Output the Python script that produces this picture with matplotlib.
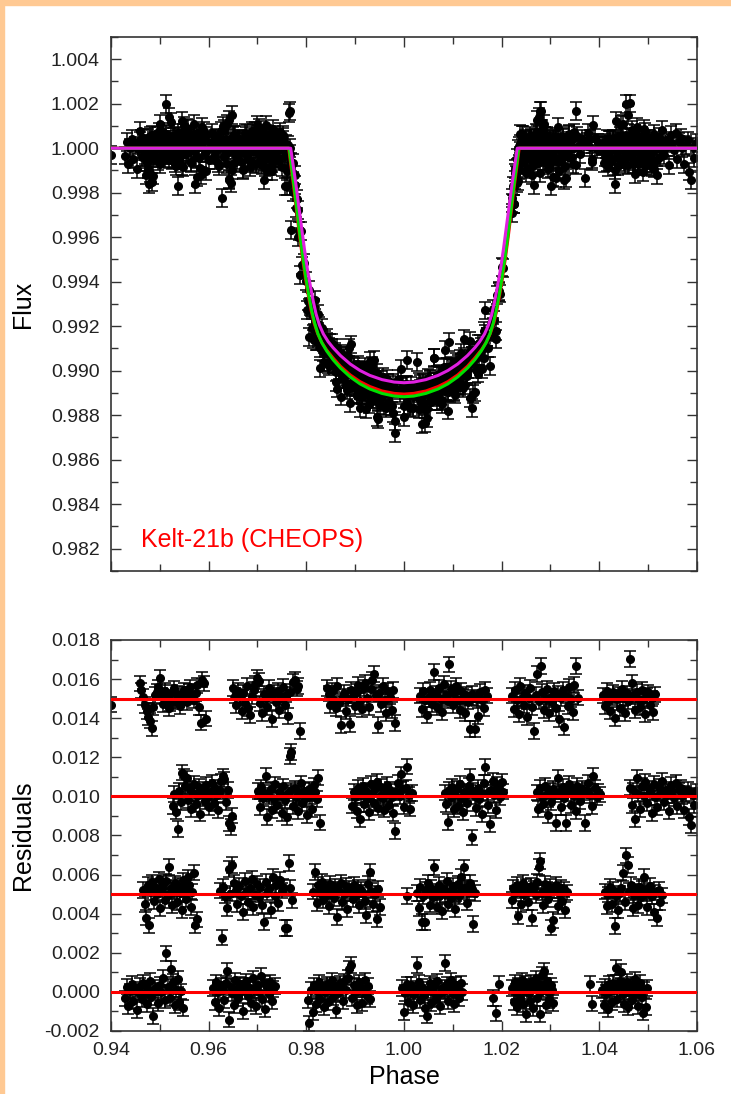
import numpy as np
import matplotlib
matplotlib.use('Agg')
import matplotlib.pyplot as plt
from matplotlib.patches import Rectangle
from matplotlib.ticker import MultipleLocator, FormatStrFormatter

plt.rcParams['font.family'] = ['Liberation Sans', 'DejaVu Sans']
plt.rcParams['axes.unicode_minus'] = False

# transit models, half profile (phase - 1, flux); curves are symmetric about phase 1
dp_red = [-0.0600, -0.0236, -0.0232, -0.0226, -0.0220, -0.0214, -0.0208, -0.0202, -0.0196, -0.0190, -0.0184,
          -0.0177, -0.0169, -0.0159, -0.0145, -0.0130, -0.0110, -0.0090, -0.0070, -0.0045, -0.0020, 0.0]
flux_red = [1.0000, 1.0000, 0.9993, 0.9983, 0.9972, 0.9961, 0.9951, 0.9942, 0.9934, 0.9927, 0.99215,
            0.99168, 0.99130, 0.99095, 0.99057, 0.99020, 0.98981, 0.98951, 0.98929, 0.98909, 0.98898, 0.98895]
dp_green = [-0.0600, -0.0235, -0.0231, -0.0225, -0.0219, -0.0213, -0.0207, -0.0201, -0.0195, -0.0189, -0.0183,
            -0.0176, -0.0168, -0.0158, -0.0145, -0.0130, -0.0110, -0.0090, -0.0070, -0.0045, -0.0020, 0.0]
flux_green = [1.0000, 1.0000, 0.9993, 0.9983, 0.9972, 0.9961, 0.9951, 0.9942, 0.9934, 0.9927, 0.99215,
              0.99165, 0.99125, 0.99088, 0.99049, 0.99012, 0.98972, 0.98941, 0.98918, 0.98898, 0.98886, 0.98883]
dp_mag = [-0.0600, -0.0232, -0.0228, -0.0222, -0.0216, -0.0210, -0.0204, -0.0198, -0.0192, -0.0186, -0.0180,
          -0.0173, -0.0165, -0.0155, -0.0145, -0.0130, -0.0110, -0.0090, -0.0070, -0.0045, -0.0020, 0.0]
flux_mag = [1.0000, 1.0000, 0.9994, 0.9985, 0.9975, 0.9965, 0.9955, 0.9946, 0.99385, 0.99315, 0.99255,
            0.99205, 0.99165, 0.99130, 0.99103, 0.99068, 0.99030, 0.99001, 0.98979, 0.98960, 0.98949, 0.98946]

# residuals per visit, in units of 1e-5, one list per CHEOPS orbit chunk
v1_spans = [(0.9401, 0.9401), (0.9459, 0.9594), (0.9650, 0.9787), (0.9842, 0.9982), (1.0033, 1.0170),
            (1.0221, 1.0356), (1.0408, 1.0514)]
v1_res = [
    [-30],
    [80, 45, 10, -30, -60, -90, -110, -150, -40, 20, 35, 60, 110, 15, -25, 40, 5, -45, -20, 30,
     55, -10, 25, 0, -35, 10, 45, 20, -15, 35, 60, 15, -5, 30, 70, -40, -120, 100, 80, -100],
    [60, 20, -30, 45, 10, -60, 35, -20, 70, -45, -80, 15, 50, 80, 110, 95, -20, -70, 30, 5,
     -40, 60, 20, -100, 35, -15, 45, -55, 10, 65, -30, 25, -85, 40, -270, 90, 100, 55, 70, -160],
    [70, 40, -20, 55, 10, -35, 80, -10, -120, 25, 45, -50, 15, -115, 60, 30, -25, 50, 85, 5,
     -40, 70, 95, 20, -30, 65, 110, 140, 35, -120, 45, -15, 80, 10, -60, 55, 25, -45, 60, -110],
    [30, -40, 55, 10, -70, 25, 60, -15, 150, 40, -30, 70, 15, -55, 90, 35, 5, 190, 65, -20,
     45, 80, 10, -45, 55, 25, -60, 35, 0, -140, 40, 20, -140, 15, -75, 50, 10, -35, 60, 30],
    [40, -30, 70, 15, -55, 90, 25, -10, 55, -70, 30, 80, -20, -140, 45, 150, 10, 190, 60, -35,
     20, 75, -50, 35, 5, 65, -25, 50, -80, 25, 70, -120, 40, -15, 85, 20, -45, 95, 190, 30],
    [35, -20, 60, 10, -45, 25, 50, -80, 15, 40, -30, 70, 20, -55, 45, 5, 220, 100, 30, -40,
     55, 15, -25, 65, 10, -60, 35, 50, -15, 20, -50, 40],
]
v2_spans = [(0.9527, 0.9648), (0.9701, 0.9828), (0.9894, 1.0016), (1.0084, 1.0203), (1.0272, 1.0401),
            (1.0463, 1.0598)]
v2_res = [
    [-40, 20, -70, -160, 35, -20, 130, 110, 60, 100, -10, 45, -55, 25, 70, -30, 10, 55, -80, 20,
     40, -15, 65, 5, -45, 30, 75, -25, 50, 15, -60, 35, 85, 110, 95, -20, 40, -130, -150, -90],
    [50, -30, 70, 15, 40, 130, -80, 25, 60, -45, 10, 85, -20, 45, 30, -60, 75, 5, -80, 40,
     230, 55, -25, 65, 20, -50, 35, 90, -10, 50, 15, -70, 60, 25, -40, 80, 45, 10, 120, -110],
    [-30, 40, 15, -55, 60, -100, 25, 70, -20, 45, 5, -65, 80, 30, -15, 55, 90, -40, 20, 65,
     10, -50, 35, 75, -25, 50, 15, -70, -160, 40, 85, 20, 130, 55, -35, 60, 170, 25, -45, 35],
    [40, -20, -110, 55, 15, 70, -45, 25, 60, -30, 85, 10, -60, 45, 30, -15, 75, 120, -190, 50,
     20, -40, 65, 5, 35, -70, 90, 170, 40, -25, -120, 55, 100, 25, -50, 80, 60, 15, 95, 45],
    [35, -50, 60, 10, -25, 70, 20, -80, 45, -15, 55, 25, -120, 110, 40, -40, 65, 5, -120, 30,
     80, -30, 50, 15, -60, 70, 25, -10, 55, 35, -120, 45, 85, 20, -35, 120, 60, 10, 40, 25],
    [60, -30, 45, -100, 110, 25, -50, 70, 15, 90, -20, 55, 35, -70, 80, 10, -40, 65, 30, 95,
     -15, 50, 20, -60, 75, 40, 5, 85, -35, 45, 60, 15, -55, 30, 50, -90, -130, 20, -30, 40],
]
v3_spans = [(0.9466, 0.9576), (0.9623, 0.9771), (0.9814, 0.9951), (1.0007, 1.0007), (1.0027, 1.0145),
            (1.0221, 1.0334), (1.0412, 1.0528)]
v3_res = [
    [30, -40, -110, 55, -150, 20, 70, -25, 45, 10, 85, -60, 35, 60, -20, 75, 5, 150, 40, -45,
     25, 65, -30, 50, 15, -70, 80, 35, -15, 95, 55, -55, 20, 120, -150, -120],
    [40, -200, 60, 15, -50, 150, 25, 170, 80, 45, -30, 65, 10, -70, 90, 35, -20, 55, 100, -45,
     20, 75, 5, 60, -35, -120, 85, 30, 50, -60, 110, 15, 70, -25, 95, 40, 60, -150, -150, 180, 55, -10],
    [20, 120, -40, 55, 15, 70, -25, 40, 5, -55, 60, 30, -15, 45, -110, 25, 65, -35, 10, 50,
     -70, 35, 20, -20, 55, 5, 40, -50, 30, 15, -30, -100, 60, 120, 25, -45, 10, -120, 35, -60],
    [-10],
    [30, -50, 60, -120, 15, -120, 45, 80, -30, 55, 10, 160, 35, -40, 70, 20, -65, 50, 25, 90,
     -25, 40, 5, 65, -55, 30, 75, 15, 110, 45, 160, 55, -20, 35, 80, 50, -130, 30],
    [-20, 45, 15, 60, -100, 30, -40, 70, 10, 50, -30, 25, 55, -110, 40, 5, 75, 150, 180, 20,
     -45, 65, 35, -15, 50, -160, -120, 30, 60, -50, 15, 45, -25, 35, -70, 20],
    [35, -40, 20, 60, -30, 45, -140, 10, -60, 25, 55, 130, -20, 220, 170, 40, 70, -50, 15, 35,
     -35, 60, 5, 50, 110, 25, -45, 40, 65, 10, -70, 30, -100, 45, -20, 15],
]
v4_spans = [(0.9429, 0.9547), (0.9609, 0.9736), (0.9803, 0.9930), (0.9996, 1.0119), (1.0182, 1.0194),
            (1.0222, 1.0305), (1.0381, 1.0386), (1.0406, 1.0498)]
v4_res = [
    [-20, 40, -60, 15, 55, -35, 25, -80, 10, 45, -25, 60, 5, -50, 30, 70, -15, -110, 35, 20,
     -45, 50, 10, 85, -30, 210, 40, -20, 130, 65, -55, 25, 80, -40, 15, -70],
    [30, -40, 60, 10, -70, 45, 20, -30, 55, 120, -130, 35, 5, -55, 70, 25, -20, 50, 15, -85,
     40, 65, -10, 30, -45, 80, 20, -60, 45, 10, 95, -25, 55, -75, 35, 0, 60, -35, 25, 40],
    [-30, -150, 20, -90, 45, -50, 15, 60, -25, 35, -65, 10, 50, -40, 25, 70, -15, 40, -80, 5,
     55, 30, -35, 65, 20, 85, 130, 150, -20, 45, 10, -55, 60, 35, -45, 25, 70, -10, 40, -25],
    [40, -80, 15, 60, -30, 25, 55, -45, 10, 35, 160, 70, -20, 45, 5, -60, -100, 30, 65, -35,
     20, 50, -15, 75, 10, -50, 40, 25, 170, 60, -25, 35, 80, 15, -40, 55, 30, -10, 65, 20],
    [-30, -110, 40],
    [30, -40, 60, 10, -65, 45, 20, -25, 70, -50, 15, 55, -100, 35, 5, -35, 60, 25, -70, 45,
     80, -20, 30, 50, -100, 15, 100, 120, 40, -55, 65, 10, -30, 45, 20, -45],
    [40, -60],
    [25, -50, 40, 10, -70, 55, 20, -35, 60, 30, 140, -20, 45, 70, 120, 5, -45, 35, 65, -60,
     15, 50, -25, 40, 80, 10, -55, 30, 60, -10, -90, 25, -60, 35],
]
offsets = [0.015, 0.010, 0.005, 0.000]
flux_err = 0.0004


def unpack(spans, res):
    ph, r = [], []
    for (a, b), vals in zip(spans, res):
        vals = np.array(vals, dtype=float)
        if len(vals) > 3:
            vals = vals - vals.mean()  # residuals of each chunk scatter around zero
        ph.append(np.linspace(a, b, len(vals)))
        r.append(vals * 1e-5)
    return np.concatenate(ph), np.concatenate(r)


def full_curve(dp, fl):
    dp = np.array(dp)
    fl = np.array(fl)
    return np.concatenate([1 + dp, 1 - dp[-2::-1]]), np.concatenate([fl, fl[-2::-1]])


visits = [unpack(v1_spans, v1_res), unpack(v2_spans, v2_res),
          unpack(v3_spans, v3_res), unpack(v4_spans, v4_res)]
red_x, red_y = full_curve(dp_red, flux_red)
green_x, green_y = full_curve(dp_green, flux_green)
mag_x, mag_y = full_curve(dp_mag, flux_mag)

fig = plt.figure(figsize=(7.31, 10.94), dpi=100)
fig.patches.append(Rectangle((0, 0), 4 / 731, 1, transform=fig.transFigure, color='#ffc993', zorder=0))
fig.patches.append(Rectangle((0, 1 - 5 / 1094), 1, 5 / 1094, transform=fig.transFigure, color='#ffc993', zorder=0))

ax1 = fig.add_axes([0.1518, 0.4781, 0.8016, 0.4881])
ax2 = fig.add_axes([0.1518, 0.0576, 0.8016, 0.3574])

eb = dict(fmt='o', color='black', ms=5.5, elinewidth=1.1, capsize=4, capthick=1.1, zorder=2)

# top panel: phase-folded light curve = model + residuals of all visits
for ph, r in visits:
    f = np.interp(ph, red_x, red_y) + r
    ax1.errorbar(ph, f, yerr=flux_err, **eb)
ax1.plot(red_x, red_y, color='#ff0000', lw=2.2, zorder=3)
ax1.plot(green_x, green_y, color='#00e000', lw=2.2, zorder=4)
ax1.plot(mag_x, mag_y, color='#e020e0', lw=2.2, zorder=5)
ax1.text(0.9462, 0.9824, 'Kelt-21b (CHEOPS)', color='#ff0000', fontsize=18, va='center', ha='left')
ax1.set_ylim(0.981, 1.005)
ax1.yaxis.set_major_locator(MultipleLocator(0.002))
ax1.yaxis.set_minor_locator(MultipleLocator(0.001))
ax1.yaxis.set_major_formatter(FormatStrFormatter('%.3f'))
ax1.set_ylabel('Flux', fontsize=18)
ax1.tick_params(axis='x', labelbottom=False)

# bottom panel: residuals shifted per visit
for (ph, r), off in zip(visits, offsets):
    ax2.errorbar(ph, r + off, yerr=flux_err, **eb)
    ax2.axhline(off, color='#ff0000', lw=2.2, zorder=4)
ax2.set_ylim(-0.002, 0.018)
ax2.yaxis.set_major_locator(MultipleLocator(0.002))
ax2.yaxis.set_minor_locator(MultipleLocator(0.001))
ax2.yaxis.set_major_formatter(FormatStrFormatter('%.3f'))
ax2.xaxis.set_major_formatter(FormatStrFormatter('%.2f'))
ax2.set_ylabel('Residuals', fontsize=18)
ax2.set_xlabel('Phase', fontsize=18, labelpad=4)

for ax in (ax1, ax2):
    ax.set_xlim(0.94, 1.06)
    ax.xaxis.set_major_locator(MultipleLocator(0.02))
    ax.xaxis.set_minor_locator(MultipleLocator(0.01))
    ax.tick_params(which='both', direction='in', top=True, right=True, color='#333333',
                   labelsize=14, labelcolor='#222222', pad=8)
    ax.tick_params(which='major', length=7, width=1)
    ax.tick_params(which='minor', length=5, width=1)
    ax.yaxis.set_label_coords(-0.13, 0.5)
    for s in ax.spines.values():
        s.set_color('#333333')
        s.set_linewidth(1.2)

plt.savefig('out.png', dpi=100)
